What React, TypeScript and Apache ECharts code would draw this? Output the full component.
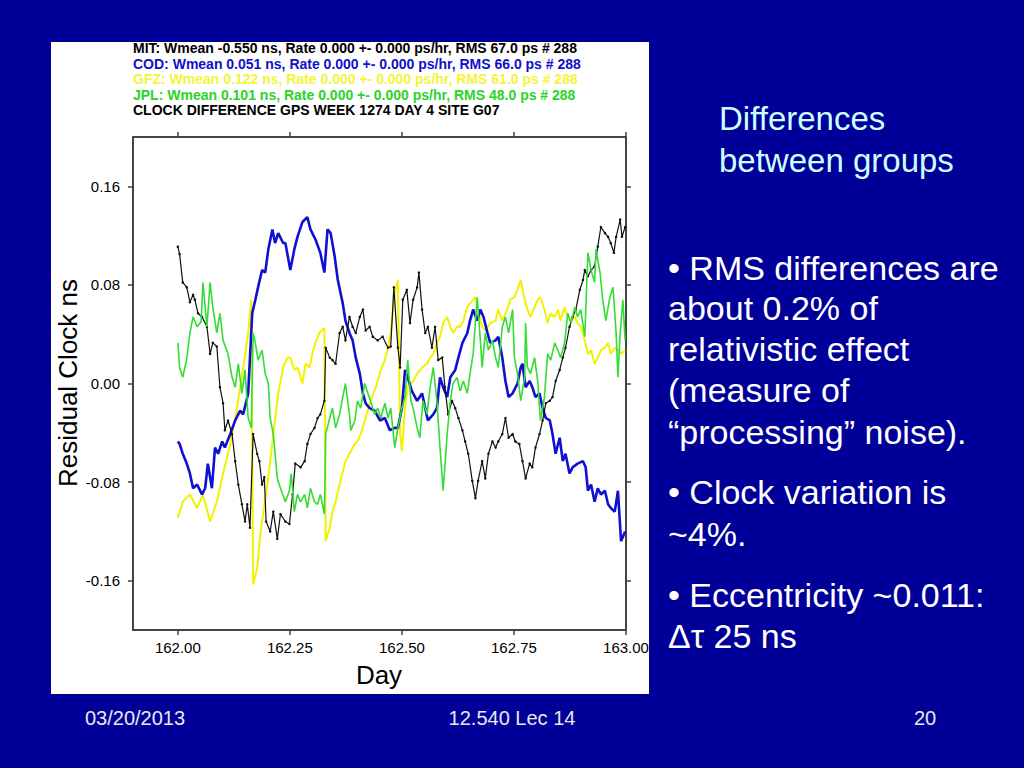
import React, { useEffect, useRef } from "react";
import * as echarts from "echarts";

// ---- data (Day, Residual Clock ns) ----
const mitPoints: [number, number][] = [
  [162.000,0.111],[162.004,0.105],[162.011,0.082],[162.020,0.078],[162.027,0.066],[162.034,0.072],[162.038,0.068],[162.045,0.057],[162.054,0.054],[162.065,0.046],[162.072,0.024],[162.078,0.033],[162.087,0.030],[162.094,-0.003],[162.101,-0.016],[162.105,-0.038],[162.112,-0.030],[162.121,-0.041],[162.128,-0.063],[162.135,-0.082],[162.143,-0.098],[162.150,-0.112],[162.155,-0.098],[162.161,-0.117],[162.168,-0.041],[162.177,-0.057],[162.182,-0.063],[162.188,-0.082],[162.193,-0.076],[162.197,-0.112],[162.206,-0.120],[162.213,-0.104],[162.222,-0.126],[162.229,-0.106],[162.240,-0.112],[162.249,-0.114],[162.256,-0.090],[162.262,-0.065],[162.274,-0.068],[162.283,-0.063],[162.289,-0.049],[162.296,-0.041],[162.305,-0.036],[162.312,-0.028],[162.318,-0.025],[162.327,-0.014],[162.330,0.029],[162.339,0.021],[162.345,0.019],[162.352,0.016],[162.361,0.041],[162.368,0.046],[162.374,0.035],[162.383,0.054],[162.390,0.046],[162.397,0.041],[162.406,0.054],[162.413,0.060],[162.419,0.043],[162.428,0.046],[162.435,0.038],[162.446,0.035],[162.457,0.038],[162.469,0.029],[162.475,0.030],[162.482,0.078],[162.491,0.029],[162.496,0.013],[162.502,0.068],[162.511,0.076],[162.518,0.049],[162.525,0.068],[162.534,0.078],[162.538,0.090],[162.545,0.060],[162.552,0.041],[162.558,0.046],[162.567,0.029],[162.574,0.046],[162.581,0.019],[162.590,0.021],[162.596,-0.003],[162.603,-0.025],[162.612,-0.014],[162.619,-0.020],[162.626,-0.028],[162.635,-0.038],[162.641,-0.047],[162.648,-0.057],[162.657,-0.079],[162.664,-0.093],[162.670,-0.079],[162.679,-0.063],[162.686,-0.077],[162.693,-0.057],[162.702,-0.047],[162.709,-0.052],[162.715,-0.047],[162.724,-0.041],[162.731,-0.028],[162.738,-0.044],[162.747,-0.041],[162.753,-0.047],[162.762,-0.049],[162.769,-0.063],[162.776,-0.077],[162.785,-0.065],[162.791,-0.068],[162.798,-0.052],[162.807,-0.041],[162.814,-0.030],[162.821,-0.016],[162.830,-0.014],[162.836,-0.011],[162.843,0.002],[162.852,0.011],[162.859,0.021],[162.865,0.029],[162.874,0.046],[162.881,0.054],[162.888,0.060],[162.897,0.076],[162.904,0.084],[162.908,0.092],[162.915,0.087],[162.922,0.092],[162.930,0.095],[162.937,0.111],[162.944,0.127],[162.953,0.122],[162.960,0.119],[162.966,0.114],[162.973,0.106],[162.978,0.119],[162.987,0.133],[162.991,0.119],[162.998,0.127]
];

const codPoints: [number, number][] = [
  [162.000,-0.047],[162.004,-0.049],[162.011,-0.057],[162.020,-0.065],[162.027,-0.073],[162.034,-0.085],[162.043,-0.082],[162.054,-0.090],[162.061,-0.085],[162.067,-0.065],[162.076,-0.085],[162.083,-0.052],[162.090,-0.057],[162.099,-0.047],[162.105,-0.052],[162.117,-0.041],[162.128,-0.030],[162.139,-0.022],[162.146,-0.025],[162.157,-0.008],[162.166,0.057],[162.173,0.068],[162.179,0.078],[162.188,0.092],[162.195,0.090],[162.202,0.109],[162.211,0.125],[162.217,0.114],[162.224,0.122],[162.235,0.114],[162.240,0.114],[162.251,0.092],[162.260,0.109],[162.267,0.119],[162.278,0.131],[162.289,0.135],[162.296,0.125],[162.307,0.117],[162.318,0.106],[162.327,0.090],[162.334,0.125],[162.341,0.122],[162.350,0.103],[162.357,0.084],[162.368,0.065],[162.374,0.051],[162.383,0.041],[162.390,0.035],[162.397,0.021],[162.406,0.008],[162.413,-0.008],[162.419,-0.016],[162.428,-0.020],[162.439,-0.022],[162.451,-0.030],[162.462,-0.028],[162.473,-0.038],[162.484,-0.036],[162.491,-0.036],[162.500,-0.020],[162.507,0.011],[162.513,0.005],[162.522,-0.006],[162.534,-0.014],[162.545,-0.008],[162.552,-0.020],[162.558,-0.030],[162.570,-0.025],[162.578,-0.020],[162.585,0.005],[162.592,-0.003],[162.601,-0.011],[162.608,0.005],[162.619,0.011],[162.626,0.021],[162.635,0.033],[162.646,0.041],[162.652,0.051],[162.659,0.060],[162.668,0.051],[162.675,0.060],[162.682,0.054],[162.691,0.041],[162.697,0.033],[162.709,0.035],[162.715,0.038],[162.724,0.021],[162.731,0.002],[162.738,-0.011],[162.747,-0.008],[162.758,0.000],[162.765,0.013],[162.769,0.016],[162.776,-0.003],[162.785,0.002],[162.791,-0.003],[162.798,-0.011],[162.807,-0.008],[162.814,-0.020],[162.821,-0.028],[162.830,-0.030],[162.836,-0.041],[162.843,-0.057],[162.852,-0.044],[162.859,-0.063],[162.865,-0.057],[162.874,-0.073],[162.881,-0.068],[162.892,-0.065],[162.904,-0.063],[162.910,-0.068],[162.915,-0.087],[162.922,-0.082],[162.930,-0.096],[162.937,-0.085],[162.944,-0.090],[162.953,-0.087],[162.960,-0.098],[162.966,-0.101],[162.975,-0.104],[162.982,-0.087],[162.989,-0.128],[162.998,-0.120]
];

const gfzPoints: [number, number][] = [
  [162.000,-0.109],[162.011,-0.096],[162.027,-0.090],[162.043,-0.101],[162.056,-0.090],[162.072,-0.112],[162.087,-0.096],[162.101,-0.073],[162.117,-0.049],[162.132,-0.020],[162.146,0.013],[162.157,0.041],[162.164,0.068],[162.168,-0.163],[162.177,-0.150],[162.184,-0.122],[162.200,-0.082],[162.213,-0.041],[162.224,-0.008],[162.235,0.013],[162.244,0.021],[162.251,0.021],[162.260,0.011],[162.267,0.013],[162.278,0.000],[162.285,0.016],[162.294,0.013],[162.300,0.024],[162.307,0.033],[162.316,0.041],[162.327,0.045],[162.330,-0.128],[162.339,-0.117],[162.345,-0.104],[162.352,-0.096],[162.363,-0.079],[162.374,-0.063],[162.383,-0.057],[162.395,-0.049],[162.401,-0.047],[162.408,-0.041],[162.419,-0.028],[162.430,-0.014],[162.442,-0.003],[162.453,0.011],[162.462,0.019],[162.469,0.029],[162.475,0.041],[162.484,0.073],[162.491,0.084],[162.496,-0.041],[162.500,-0.055],[162.507,-0.020],[162.513,-0.003],[162.525,0.002],[162.534,0.008],[162.545,0.013],[162.556,0.016],[162.563,0.021],[162.570,0.024],[162.578,0.033],[162.585,0.038],[162.592,0.049],[162.601,0.054],[162.608,0.046],[162.614,0.041],[162.623,0.046],[162.630,0.046],[162.637,0.051],[162.646,0.062],[162.652,0.065],[162.664,0.070],[162.670,0.060],[162.679,0.046],[162.686,0.043],[162.697,0.049],[162.709,0.051],[162.715,0.060],[162.724,0.051],[162.735,0.060],[162.742,0.068],[162.751,0.070],[162.758,0.076],[162.765,0.084],[162.774,0.068],[162.780,0.060],[162.787,0.054],[162.796,0.062],[162.803,0.068],[162.809,0.070],[162.818,0.060],[162.825,0.049],[162.832,0.057],[162.841,0.054],[162.848,0.060],[162.854,0.051],[162.863,0.062],[162.870,0.054],[162.877,0.051],[162.886,0.054],[162.892,0.049],[162.899,0.046],[162.908,0.035],[162.915,0.024],[162.922,0.027],[162.930,0.016],[162.937,0.021],[162.944,0.027],[162.953,0.029],[162.960,0.033],[162.966,0.024],[162.975,0.029],[162.982,0.027],[162.989,0.024],[162.998,0.027]
];

const jplPoints: [number, number][] = [
  [162.000,0.033],[162.004,0.013],[162.011,0.005],[162.020,0.020],[162.027,0.041],[162.034,0.054],[162.043,0.046],[162.052,0.050],[162.056,0.082],[162.065,0.046],[162.072,0.082],[162.078,0.062],[162.087,0.041],[162.094,0.057],[162.101,0.035],[162.112,0.024],[162.121,0.005],[162.128,-0.003],[162.135,0.016],[162.143,-0.008],[162.150,0.011],[162.157,-0.028],[162.164,-0.036],[162.168,0.041],[162.173,0.033],[162.179,0.019],[162.188,0.027],[162.195,0.008],[162.202,0.000],[162.206,-0.028],[162.213,-0.041],[162.222,-0.077],[162.229,-0.085],[162.240,-0.096],[162.249,-0.087],[162.253,-0.073],[162.260,-0.104],[162.267,-0.090],[162.274,-0.096],[162.283,-0.090],[162.289,-0.101],[162.296,-0.085],[162.305,-0.096],[162.312,-0.098],[162.318,-0.090],[162.327,-0.106],[162.330,-0.041],[162.339,-0.028],[162.345,-0.020],[162.352,-0.036],[162.361,-0.025],[162.368,-0.011],[162.374,0.000],[162.383,-0.025],[162.386,-0.038],[162.395,-0.030],[162.401,-0.014],[162.408,-0.020],[162.417,0.000],[162.424,-0.008],[162.430,-0.014],[162.439,-0.025],[162.446,-0.020],[162.453,-0.028],[162.462,-0.016],[162.469,-0.028],[162.475,-0.020],[162.484,-0.052],[162.491,-0.036],[162.500,-0.020],[162.507,-0.011],[162.513,0.019],[162.520,-0.014],[162.525,-0.020],[162.534,-0.036],[162.540,-0.044],[162.547,-0.014],[162.556,-0.025],[162.563,-0.003],[162.570,0.013],[162.578,-0.014],[162.585,-0.052],[162.592,-0.087],[162.601,-0.041],[162.608,-0.014],[162.614,0.000],[162.623,0.005],[162.630,-0.006],[162.637,0.002],[162.646,-0.008],[162.652,0.008],[162.659,0.024],[162.668,0.070],[162.675,0.035],[162.679,0.013],[162.686,0.041],[162.693,0.027],[162.702,0.035],[162.709,0.021],[162.715,0.013],[162.724,0.046],[162.731,0.054],[162.738,0.041],[162.747,0.060],[162.751,0.021],[162.758,0.008],[162.765,-0.014],[162.774,0.005],[162.776,0.049],[162.780,0.013],[162.787,0.008],[162.796,0.021],[162.803,0.002],[162.809,-0.030],[162.818,-0.011],[162.825,0.024],[162.832,0.019],[162.841,0.033],[162.848,0.027],[162.854,0.021],[162.863,0.033],[162.870,0.057],[162.877,0.049],[162.886,0.062],[162.892,0.054],[162.899,0.060],[162.908,0.038],[162.915,0.106],[162.922,0.092],[162.930,0.082],[162.933,0.109],[162.942,0.090],[162.948,0.068],[162.955,0.051],[162.964,0.070],[162.971,0.078],[162.978,0.041],[162.982,0.005],[162.987,0.041],[162.993,0.068],[162.998,0.035]
];

const xTickValues = [162.0, 162.25, 162.5, 162.75, 163.0];
const yTickValues = [-0.16, -0.08, 0.0, 0.08, 0.16];

const headerLines = [
  "MIT: Wmean -0.550 ns, Rate 0.000 +- 0.000 ps/hr, RMS 67.0 ps # 288",
  "COD: Wmean 0.051 ns, Rate 0.000 +- 0.000 ps/hr, RMS 66.0 ps # 288",
  "GFZ: Wmean 0.122 ns, Rate 0.000 +- 0.000 ps/hr, RMS 61.0 ps # 288",
  "JPL: Wmean 0.101 ns, Rate 0.000 +- 0.000 ps/hr, RMS 48.0 ps # 288",
  "CLOCK DIFFERENCE GPS WEEK 1274 DAY 4 SITE G07",
];
const headerColors = ["#000000", "#1010c8", "#f4f43a", "#2ad42a", "#000000"];

const titleLines = ["Differences", "between groups"];
const bulletLines = [
  "• RMS differences are",
  "about 0.2% of",
  "relativistic effect",
  "(measure of",
  "“processing” noise).",
  "• Clock variation is",
  "~4%.",
  "• Eccentricity ~0.011:",
  "Δτ 25 ns",
];
const bulletY = [268, 308, 349, 390, 432, 492, 534, 595, 636];
const footer = ["03/20/2013", "12.540 Lec 14", "20"];

const FONT = "'Liberation Sans', Arial, Helvetica, sans-serif";

export default function App() {
  const ref = useRef<HTMLDivElement>(null);
  useEffect(() => {
    if (!ref.current) return;
    const chart = echarts.init(ref.current, undefined, { renderer: "svg" });

    const txt = (text: string, x: number, y: number, size: number, fill: string, opts: any = {}) => ({
      type: "text",
      x,
      y,
      rotation: opts.rotation || 0,
      z: 10,
      style: {
        text,
        fill,
        font: `${opts.bold ? "bold " : ""}${size}px ${FONT}`,
        textAlign: opts.align || "left",
        align: opts.align || "left",
        textVerticalAlign: "middle",
        verticalAlign: "middle",
      },
    });

    const graphics: any[] = [
      { type: "rect", shape: { x: 51, y: 42, width: 598, height: 652 }, style: { fill: "#ffffff" }, z: -10 },
    ];
    headerLines.forEach((l, i) => graphics.push(txt(l, 133, 48 + i * 15.5, 14, headerColors[i], { bold: true })));
    graphics.push(txt("Residual Clock ns", 68, 383, 26, "#000000", { align: "center", rotation: Math.PI / 2 }));
    graphics.push(txt("Day", 379, 675, 26, "#000000", { align: "center" }));
    titleLines.forEach((l, i) => graphics.push(txt(l, 719, 118 + i * 42, 33, "#ccffff")));
    bulletLines.forEach((l, i) => graphics.push(txt(l, 668, bulletY[i], 34, "#ffffff")));
    graphics.push(txt(footer[0], 85, 718, 20, "#e8e8f0"));
    graphics.push(txt(footer[1], 512, 718, 20, "#e8e8f0", { align: "center" }));
    graphics.push(txt(footer[2], 925, 718, 20, "#e8e8f0", { align: "center" }));

    const frame = { show: true, onZero: false, lineStyle: { color: "#444444", width: 2 } };
    const tick = (vals: number[]) => ({ show: true, inside: false, length: 5, customValues: vals, lineStyle: { color: "#444444", width: 1.5 } });

    chart.setOption({
      animation: false,
      backgroundColor: "#000099",
      graphic: graphics,
      grid: { left: 133, top: 137, width: 493, height: 493, containLabel: false },
      xAxis: [
        {
          type: "value", position: "bottom", min: 161.9, max: 163.0,
          axisLine: frame, axisTick: tick(xTickValues), splitLine: { show: false },
          axisLabel: { show: true, customValues: xTickValues, margin: 10, color: "#000", fontSize: 15, fontFamily: FONT, formatter: (v: number) => v.toFixed(2) },
        },
        {
          type: "value", position: "top", min: 161.9, max: 163.0,
          axisLine: frame, axisTick: tick(xTickValues), splitLine: { show: false }, axisLabel: { show: false },
        },
      ],
      yAxis: [
        {
          type: "value", position: "left", min: -0.2, max: 0.2,
          axisLine: frame, axisTick: tick(yTickValues), splitLine: { show: false },
          axisLabel: { show: true, customValues: yTickValues, margin: 13, color: "#000", fontSize: 15, fontFamily: FONT, formatter: (v: number) => v.toFixed(2) },
        },
        {
          type: "value", position: "right", min: -0.2, max: 0.2,
          axisLine: frame, axisTick: tick(yTickValues), splitLine: { show: false }, axisLabel: { show: false },
        },
      ],
      series: [
        { name: "MIT", type: "line", data: mitPoints, symbol: "circle", symbolSize: 2.5, showSymbol: true, itemStyle: { color: "#111111" }, lineStyle: { color: "#111111", width: 1.2 }, z: 5 },
        { name: "COD", type: "line", data: codPoints, showSymbol: false, lineStyle: { color: "#1010d0", width: 2.6 }, z: 4 },
        { name: "GFZ", type: "line", data: gfzPoints, showSymbol: false, lineStyle: { color: "#f2f200", width: 2 }, z: 3 },
        { name: "JPL", type: "line", data: jplPoints, showSymbol: false, lineStyle: { color: "#33dd33", width: 1.6 }, z: 6 },
      ],
    });
    return () => chart.dispose();
  }, []);

  return <div ref={ref} style={{ position: "fixed", left: 0, top: 0, width: 1024, height: 768 }} />;
}
